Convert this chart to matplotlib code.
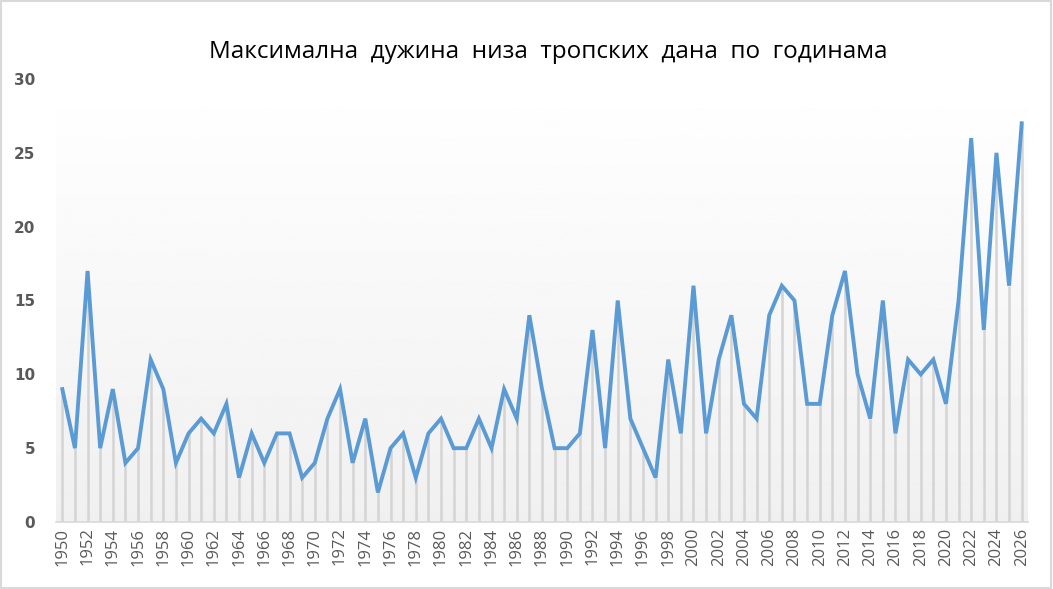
import matplotlib.pyplot as plt
import numpy as np

years = list(range(1950, 2027))
max_len = [9, 5, 17, 5, 9, 4, 5, 11, 9, 4,
           6, 7, 6, 8, 3, 6, 4, 6, 6, 3,
           4, 7, 9, 4, 7, 2, 5, 6, 3, 6,
           7, 5, 5, 7, 5, 9, 7, 14, 9, 5,
           5, 6, 13, 5, 15, 7, 5, 3, 11, 6,
           16, 6, 11, 14, 8, 7, 14, 16, 15, 8,
           8, 14, 17, 10, 7, 15, 6, 11, 10, 11,
           8, 15, 26, 13, 25, 16, 27]
title = 'Максимална  дужина  низа  тропских  дана  по  годинама'

fig = plt.figure(figsize=(10.53, 5.89), dpi=100)
ax = fig.add_axes([56 / 1053, 1 - 522 / 589, 972 / 1053, 443 / 589])

x = np.arange(len(years))

# gradient background of plot area
grad = np.linspace(1.0, 0.94, 256).reshape(-1, 1)
ax.imshow(grad, cmap='gray', vmin=0, vmax=1, aspect='auto',
          extent=(-0.5, len(years) - 0.5, 0, 30), origin='upper', zorder=0)

ax.vlines(x, 0, max_len, color='#d4d4d4', lw=1.8, zorder=1)
ax.plot(x, max_len, color='#5b9bd5', lw=2.8, solid_joinstyle='miter', zorder=3)

ax.set_xlim(-0.5, len(years) - 0.5)
ax.set_ylim(0, 30)
ax.set_yticks(range(0, 31, 5))
ax.set_yticklabels([str(v) for v in range(0, 31, 5)], fontsize=11,
                   fontweight='bold', color='#595959', family='DejaVu Sans')
ax.set_xticks(x[::2])
ax.set_xticklabels([str(y) for y in years[::2]], rotation=90, fontsize=12,
                   color='#595959', family='Open Sans')
ax.tick_params(axis='both', length=0)
ax.tick_params(axis='y', pad=15)
ax.tick_params(axis='x', pad=4)

for s in ['top', 'right', 'left']:
    ax.spines[s].set_visible(False)
ax.spines['bottom'].set_color('#d9d9d9')
ax.spines['bottom'].set_linewidth(1.2)

fig.text(548 / 1053, 1 - 52 / 589, title, ha='center', va='center',
         fontsize=17.5, color='black', family='Open Sans')

# figure border
fig.patches.append(plt.Rectangle((0.001, 0.002), 0.997, 0.996, transform=fig.transFigure,
                                 fill=False, edgecolor='#d9d9d9', lw=1.5))

fig.savefig('out.png', dpi=100)
